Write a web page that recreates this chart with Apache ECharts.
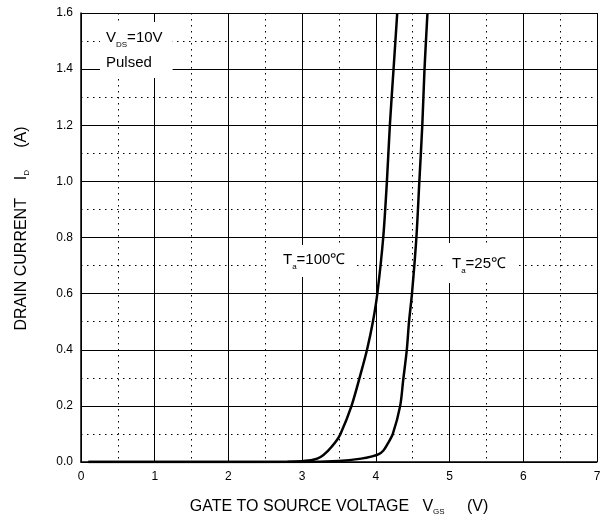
<!DOCTYPE html>
<html style="height: 100%">
<head>
<meta charset="utf-8">
</head>
<body style="height: 100%; margin: 0">
	<div id="container" style="width: 610px; height: 521px"></div>
	<script type="text/javascript" src="https://cdn.jsdelivr.net/npm/echarts/dist/echarts.min.js"></script>
	<script type="text/javascript">
		// gate voltage (V) / drain current (A)
		var vgs100 = [0.1, 1, 2, 2.8, 3.0, 3.15, 3.25, 3.35, 3.45, 3.52, 3.67, 3.8, 3.88, 3.96, 4.02, 4.1, 4.15, 4.19, 4.24, 4.29];
		var id100 = [0, 0, 0, 0.001, 0.003, 0.008, 0.018, 0.04, 0.07, 0.1, 0.2, 0.32, 0.4, 0.5, 0.6, 0.8, 1.0, 1.2, 1.4, 1.6];
		var vgs25 = [0.1, 1, 2, 3.0, 3.5, 3.8, 3.95, 4.04, 4.1, 4.15, 4.23, 4.33, 4.37, 4.42, 4.45, 4.49, 4.55, 4.59, 4.63, 4.66, 4.70];
		var id25 = [0, 0, 0, 0, 0.004, 0.012, 0.02, 0.028, 0.04, 0.06, 0.1, 0.2, 0.29, 0.4, 0.5, 0.6, 0.8, 1.0, 1.2, 1.4, 1.6];
		var yTicks = ['0.0', '0.2', '0.4', '0.6', '0.8', '1.0', '1.2', '1.4', '1.6'];

		function pairs(xs, ys) {
			var out = [];
			for (var i = 0; i < xs.length; i++) out.push([xs[i], ys[i]]);
			return out;
		}

		var font = 'Liberation Sans, Arial, sans-serif';
		var titleText = { fontSize: 16, fontFamily: font, color: '#000' };
		var titleSub = { fontSize: 8, fontFamily: font, color: '#000', padding: [11, 0, 0, 0] };
		var boxText = { fontSize: 15, fontFamily: font, color: '#000', lineHeight: 25 };
		var boxSub = { fontSize: 8, fontFamily: font, color: '#000', padding: [15, 0, 0, 0] };
		var dotted = { color: '#000', width: 1, type: [1.5, 4.5] };

		var myChart = echarts.init(document.getElementById('container'));
		var option = {
			animation: false,
			backgroundColor: '#fff',
			grid: { left: 81, right: 13, top: 13, bottom: 59 },
			xAxis: {
				type: 'value', min: 0, max: 7, interval: 1,
				axisLine: { lineStyle: { color: '#000', width: 1.5 } },
				axisTick: { show: false },
				axisLabel: { color: '#000', fontSize: 12, fontFamily: font, margin: 9 },
				splitLine: { lineStyle: { color: '#000', width: 1 } },
				minorTick: { show: false, splitNumber: 2 },
				minorSplitLine: { show: true, lineStyle: dotted },
				name: '{t|GATE TO SOURCE VOLTAGE   V}{s|GS}{t|     (V)}',
				nameLocation: 'middle', nameGap: 35,
				nameTextStyle: { rich: { t: titleText, s: titleSub } }
			},
			yAxis: {
				type: 'value', min: 0, max: 1.6, interval: 0.2,
				axisLine: { show: true, lineStyle: { color: '#000', width: 1.5 } },
				axisTick: { show: false },
				axisLabel: {
					color: '#000', fontSize: 12, fontFamily: font, margin: 8,
					formatter: function (v) { return yTicks[Math.round(v / 0.2)]; }
				},
				splitLine: { lineStyle: { color: '#000', width: 1 } },
				minorTick: { show: false, splitNumber: 2 },
				minorSplitLine: { show: true, lineStyle: dotted },
				name: '{t|DRAIN CURRENT    I}{s|D}{t|     (A)}',
				nameLocation: 'middle', nameGap: 50,
				nameTextStyle: { padding: [0, 0, 0, 18], rich: { t: titleText, s: titleSub } }
			},
			series: [{
				name: 'Ta=100', type: 'line', smooth: 0.3, showSymbol: false,
				lineStyle: { color: '#000', width: 2.5 },
				data: pairs(vgs100, id100), z: 5
			}, {
				name: 'Ta=25', type: 'line', smooth: 0.3, showSymbol: false,
				lineStyle: { color: '#000', width: 2.5 },
				data: pairs(vgs25, id25), z: 5
			}],
			graphic: [{
				type: 'text', left: 100, top: 22, z: 10,
				style: {
					text: '{t|V}{s|DS}{t|=10V}\n{t|Pulsed}',
					backgroundColor: '#fff', padding: [3, 10, 3, 6],
					rich: { t: boxText, s: boxSub }
				}
			}, {
				type: 'text', left: 266, top: 245, z: 10,
				style: {
					text: '{t|T}{s|a}{t|=100℃}',
					backgroundColor: '#fff', padding: [2, 10, 5, 17],
					rich: { t: boxText, s: boxSub }
				}
			}, {
				type: 'text', left: 443, top: 243, z: 10,
				style: {
					text: '{t|T}{s|a}{t|=25℃}',
					backgroundColor: '#fff', padding: [8, 13, 7, 9],
					rich: { t: boxText, s: boxSub }
				}
			}]
		};
		myChart.setOption(option);
	</script>
</body>
</html>
